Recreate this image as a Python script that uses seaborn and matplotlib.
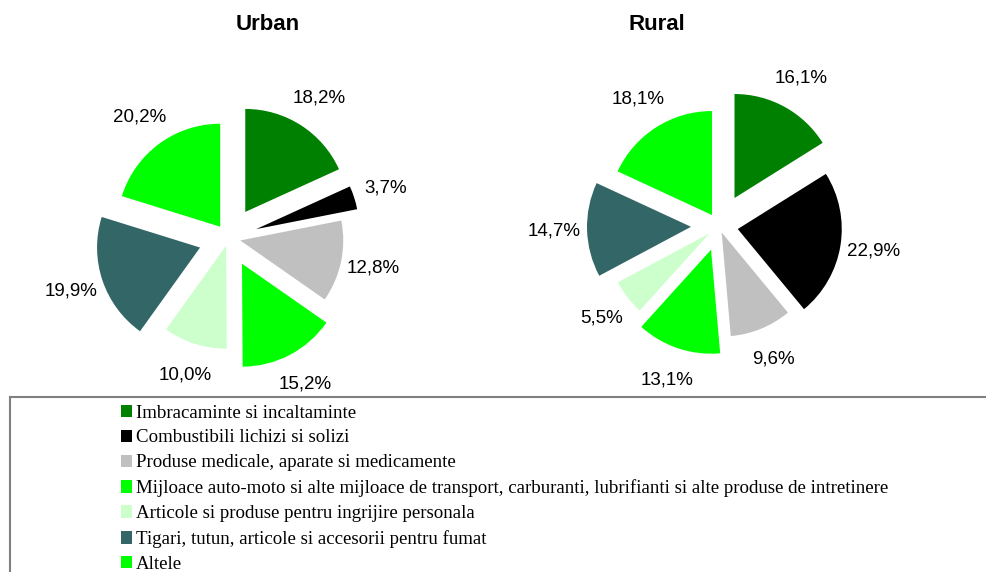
import matplotlib
matplotlib.use("Agg")
import matplotlib.pyplot as plt
import seaborn as sns
from matplotlib.patches import Patch, Rectangle

# DATE
categorii = [
    "Imbracaminte si incaltaminte",
    "Combustibili lichizi si solizi",
    "Produse medicale, aparate si medicamente",
    "Mijloace auto-moto si alte mijloace de transport, carburanti, lubrifianti si alte produse de intretinere",
    "Articole si produse pentru ingrijire personala",
    "Tigari, tutun, articole si accesorii pentru fumat",
    "Altele",
]
urban = [18.2, 3.7, 12.8, 15.2, 10.0, 19.9, 20.2]
rural = [16.1, 22.9, 9.6, 13.1, 5.5, 14.7, 18.1]
culori = ["#008000", "#000000", "#C0C0C0", "#00FF00", "#CCFFCC", "#336666", "#00FF00"]

# explozie (pixeli) pentru fiecare felie
explode_urban = [31, 29, 12, 29, 8, 30, 14]
explode_rural = [32, 19, 7, 25, 12, 28, 13]

sns.set_theme(style="white")
plt.rcParams["font.family"] = ["Liberation Sans", "DejaVu Sans"]
plt.rcParams["text.color"] = "black"

W, H = 987, 572
fig = plt.figure(figsize=(W / 100, H / 100), dpi=100)
paleta = sns.color_palette(culori)


def pie_px(valori, explode, cx, cy, r, left, right, top, bottom):
    # axa in care o unitate = un pixel, centrul placintei in (0, 0)
    ax = fig.add_axes([left / W, 1 - bottom / H, (right - left) / W, (bottom - top) / H])
    wedges, _, _ = ax.pie(
        valori, colors=paleta, explode=explode, radius=r, startangle=90,
        counterclock=False, autopct=lambda p: f"{p:.1f}%".replace(".", ","),
        pctdistance=1.32, wedgeprops=dict(linewidth=0),
        textprops=dict(fontsize=13.5, color="black"),
    )
    ax.set_xlim(left - cx, right - cx)
    ax.set_ylim(cy - bottom, cy - top)
    ax.set_aspect("equal")
    ax.axis("off")
    return wedges


pie_px(urban, explode_urban, 228.5, 238, 103, 0, 470, 40, 395)
pie_px(rural, explode_rural, 719, 226, 104, 480, 987, 40, 395)

fig.text(268 / W, 1 - 25 / H, "Urban", ha="center", va="center", fontsize=16,
         fontweight="bold", color="black")
fig.text(656.5 / W, 1 - 25 / H, "Rural", ha="center", va="center", fontsize=16,
         fontweight="bold", color="black")

# cadrul legendei
fig.patches.append(Rectangle((9.5 / W, -0.05), 1.0, 1 - 397 / H + 0.05, transform=fig.transFigure,
                             fill=False, edgecolor="#808080", linewidth=1.5))

handles = [Patch(facecolor=c, edgecolor="none") for c in culori]
fig.legend(handles, categorii, loc="upper left", bbox_to_anchor=(113 / W, 1 - 397 / H),
           frameon=False, prop=dict(family="Liberation Serif", size=13.6),
           handlelength=0.63, handleheight=0.63, handletextpad=0.2, labelspacing=0.42,
           borderaxespad=0)

fig.savefig("out.png", dpi=100)
